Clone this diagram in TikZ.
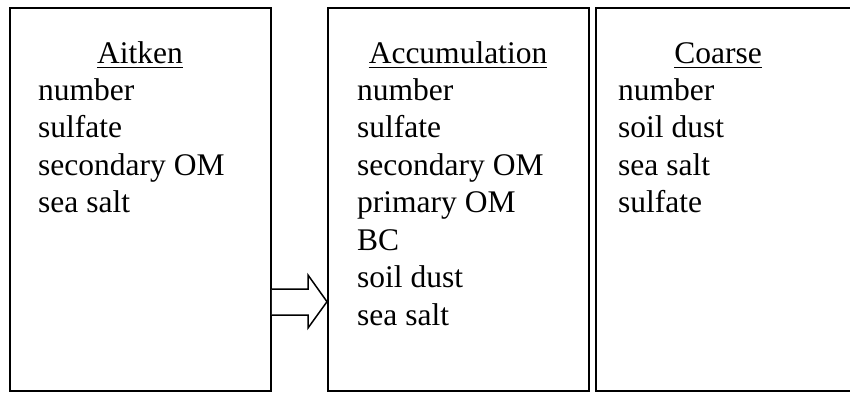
\documentclass[tikz,border=0pt]{standalone}
\usepackage{fontspec}
\setmainfont{Liberation Serif}
\usetikzlibrary{calc}
\begin{document}
\begin{tikzpicture}[x=1pt,y=-1pt,
  box/.style={draw,line width=1.8pt,rectangle,inner sep=0pt,anchor=north west},
  head/.style={anchor=base,inner sep=0pt,font=\fontsize{31.5}{37.5}\selectfont},
  item/.style={anchor=base west,inner sep=0pt,font=\fontsize{31.5}{37.5}\selectfont},
  uline/.style={line width=1.6pt},
  blockarrow/.style={draw,line width=1.5pt,line join=miter,fill=white}]
\useasboundingbox (0,0) rectangle (850,392);
\clip (0,0) rectangle (850,392);
% boxes
\node[box,minimum width=261pt,minimum height=383pt] (b1) at (9,7) {};
\node[box,minimum width=261pt,minimum height=383pt] (b2) at (327,7) {};
\node[box,minimum width=270pt,minimum height=383pt] (b3) at (595,7) {};
% headings
\node[head] (h1) at (140,63) {Aitken};
\node[head] (h2) at (458,63) {Accumulation};
\node[head] (h3) at (718,63) {Coarse};
\foreach \h in {h1,h2,h3}{
  \draw[uline] ($(\h.base west)+(0,4.5)$) -- ($(\h.base east)+(0,4.5)$);
}
% items
\foreach \t [count=\i] in {number,sulfate,secondary OM,sea salt}
  \node[item] (a\i) at (38,{62.5+37.5*\i}) {\t};
\foreach \t [count=\i] in {number,sulfate,secondary OM,primary OM,BC,soil dust,sea salt}
  \node[item] (m\i) at (357,{62.5+37.5*\i}) {\t};
\foreach \t [count=\i] in {number,soil dust,sea salt,sulfate}
  \node[item] (c\i) at (618,{62.5+37.5*\i}) {\t};
% block arrow between Aitken and Accumulation
\draw[blockarrow] (b1.east |- {(0,289)}) -- (308,289) -- (308,275)
  -- (b2.west |- {(0,301.7)}) -- (308,328) -- (308,315) -- (b1.east |- {(0,315)});
\end{tikzpicture}
\end{document}
